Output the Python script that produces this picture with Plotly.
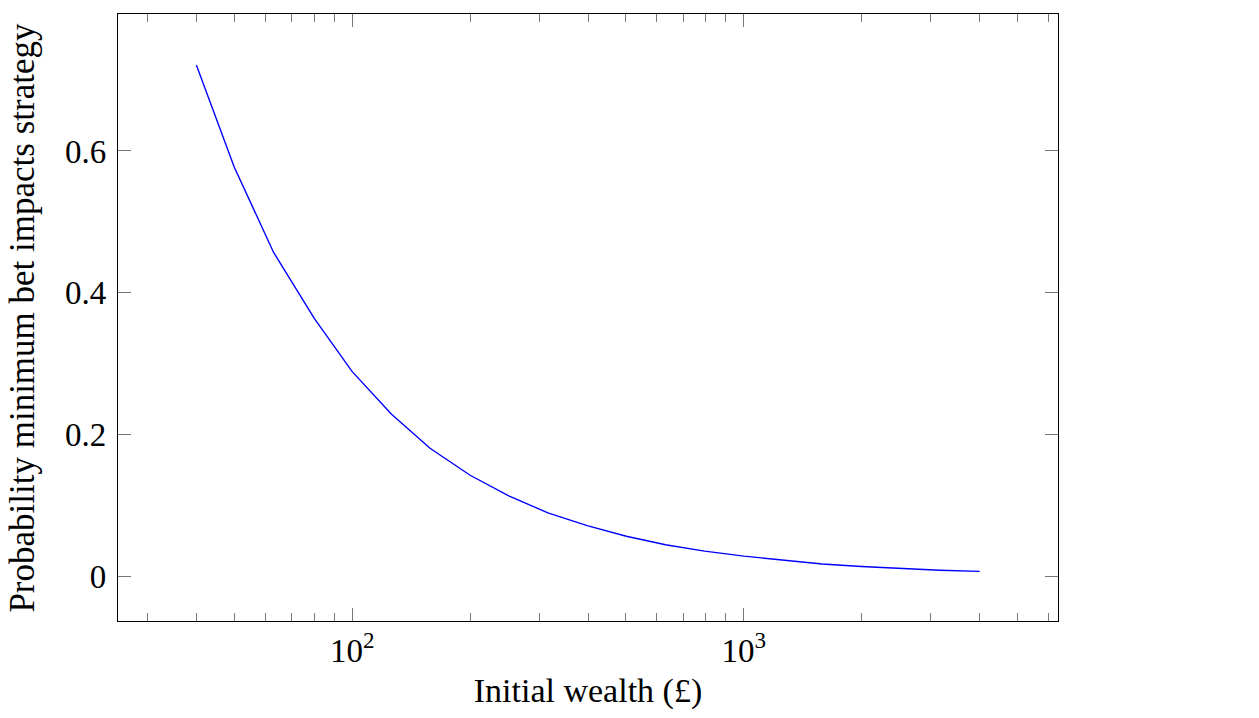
import plotly.graph_objects as go

wealth = [40, 50, 63, 80, 100, 126, 158, 200, 251, 316, 398, 501, 631, 794,
          1000, 1259, 1585, 1995, 2512, 3162, 4000]
prob = [0.721, 0.577, 0.457, 0.364, 0.289, 0.229, 0.181, 0.143, 0.114, 0.090,
        0.072, 0.057, 0.045, 0.036, 0.029, 0.023, 0.018, 0.0145, 0.0115, 0.0092, 0.0076]

x_major = [100, 1000]
x_major_text = ["10<sup>2</sup>", "10<sup>3</sup>"]
x_minor = [30, 40, 50, 60, 70, 80, 90, 200, 300, 400, 500, 600, 700, 800, 900,
           2000, 3000, 4000, 5000, 6000]
y_ticks = [0, 0.2, 0.4, 0.6]
y_tick_text = ["0", "0.2", "0.4", "0.6"]

FONT = "Liberation Serif"

fig = go.Figure()
fig.add_trace(go.Scatter(x=wealth, y=prob, mode="lines",
                         line=dict(color="#0000ff", width=1.4), showlegend=False))

fig.update_layout(
    width=1259, height=718,
    margin=dict(l=118, r=201, t=14, b=97),
    paper_bgcolor="white", plot_bgcolor="white",
    font=dict(family=FONT, size=33, color="black"),
    xaxis=dict(
        type="log", range=[1.402, 3.802],
        showgrid=False, zeroline=False,
        showline=True, linecolor="black", linewidth=1.3, mirror="allticks",
        ticks="inside", ticklen=13, tickwidth=1, tickcolor="#777",
        tickvals=x_major, ticktext=x_major_text,
        tickfont=dict(family=FONT, size=33),
        minor=dict(ticks="inside", ticklen=8, tickwidth=1, tickcolor="#777",
                   tickvals=x_minor, showgrid=False),
        title=dict(text="Initial wealth (£)", font=dict(family=FONT, size=34), standoff=10),
    ),
    yaxis=dict(
        range=[-0.0624, 0.793],
        showgrid=False, zeroline=False,
        showline=True, linecolor="black", linewidth=1.3, mirror="allticks",
        ticks="inside", ticklen=13, tickwidth=1, tickcolor="#777",
        tickvals=y_ticks, ticktext=y_tick_text,
        tickfont=dict(family=FONT, size=33),
        ticklabelstandoff=4,
    ),
    annotations=[dict(
        text="Probability minimum bet impacts strategy",
        xref="paper", yref="paper", x=-0.102, y=0.5,
        xanchor="center", yanchor="middle", textangle=-90, showarrow=False,
        font=dict(family=FONT, size=35, color="black"),
    )],
)

fig.write_html("out.html")
